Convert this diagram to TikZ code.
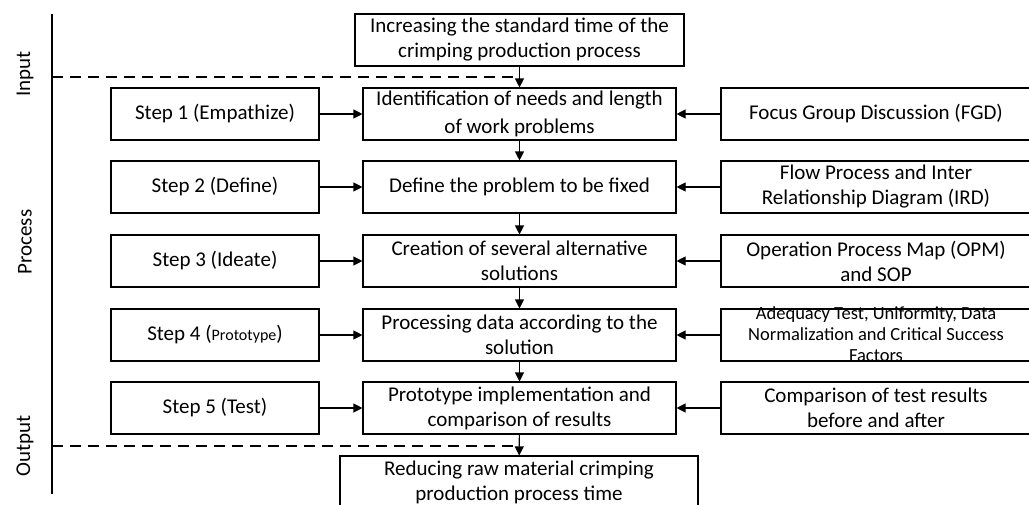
\documentclass[tikz,border=0pt]{standalone}
\usepackage{fontspec}
\setmainfont{Carlito}
\usetikzlibrary{arrows.meta}
\begin{document}
\begin{tikzpicture}[x=1pt,y=-1pt,
box/.style={draw,line width=1.1pt,inner sep=0pt,align=center,minimum height=52pt,font=\fontsize{21}{25}\selectfont},
mid/.style={box,minimum width=313pt},
side/.style={box,minimum width=208pt},
src/.style={box,minimum width=310pt},
arr/.style={line width=1.1pt,-{Triangle[length=9pt,width=9pt]}},
sep/.style={line width=1.1pt,dash pattern=on 11pt off 7pt}]
\useasboundingbox (0,0) rectangle (1029,504);
% phase labels and axis
\node[rotate=90,font=\fontsize{21}{25}\selectfont] (lin) at (25,74) {Input};
\node[rotate=90,font=\fontsize{21}{25}\selectfont] (lpro) at (25,242) {Process};
\node[rotate=90,font=\fontsize{21}{25}\selectfont] (lout) at (25,446) {Output};
\coordinate (ax0) at (52,14);
\coordinate (ax1) at (52,494);
\coordinate (d1) at (52,77);
\coordinate (d2) at (52,446);
\draw[line width=1.1pt] (ax0)--(ax1);
% main column
\node[box,minimum width=329pt] (inp) at (519.5,40) {Increasing the standard time of the\\crimping production process};
\node[mid] (m1) at (519.5,114) {Identification of needs and length\\[3pt]of work problems};
\node[mid] (m2) at (519.5,187) {Define the problem to be fixed};
\node[mid] (m3) at (519.5,261) {Creation of several alternative\\solutions};
\node[mid] (m4) at (519.5,335) {Processing data according to the\\solution};
\node[mid] (m5) at (519.5,408) {Prototype implementation and\\comparison of results};
\node[box,minimum width=358pt] (out) at (519,482) {Reducing raw material crimping\\production process time};
% steps
\node[side] (s1) at (215,114) {Step 1 (Empathize)};
\node[side] (s2) at (215,187) {Step 2 (Define)};
\node[side] (s3) at (215,261) {Step 3 (Ideate)};
\node[side] (s4) at (215,335) {Step 4 ({\fontsize{16}{18}\selectfont Prototype})};
\node[side] (s5) at (215,408) {Step 5 (Test)};
% tools
\node[src] (r1) at (876,114) {Focus Group Discussion (FGD)};
\node[src] (r2) at (876,187) {Flow Process and Inter\\Relationship Diagram (IRD)};
\node[src] (r3) at (876,261) {Operation Process Map (OPM)\\and SOP};
\node[src] (r4) at (876,335) {\raisebox{-11pt}{\smash{\fontsize{18.5}{21}\selectfont\begin{tabular}{@{}c@{}}Adequacy Test, Uniformity, Data\\Normalization and Critical Success\\Factors\end{tabular}}}};
\node[src] (r5) at (876,408) {Comparison of test results\\before and after};
% connectors
\draw[sep] (d1)--(d1 -| m1.north);
\draw[sep] (d2)--(d2 -| m5.south);
\draw[arr] (inp)--(m1);
\draw[arr] (m1)--(m2);
\draw[arr] (m2)--(m3);
\draw[arr] (m3)--(m4);
\draw[arr] (m4)--(m5);
\draw[arr] (m5)--(out);
\foreach \i in {1,...,5}{
\draw[arr] (s\i)--(m\i);
\draw[arr] (r\i)--(m\i);
}
\end{tikzpicture}
\end{document}
